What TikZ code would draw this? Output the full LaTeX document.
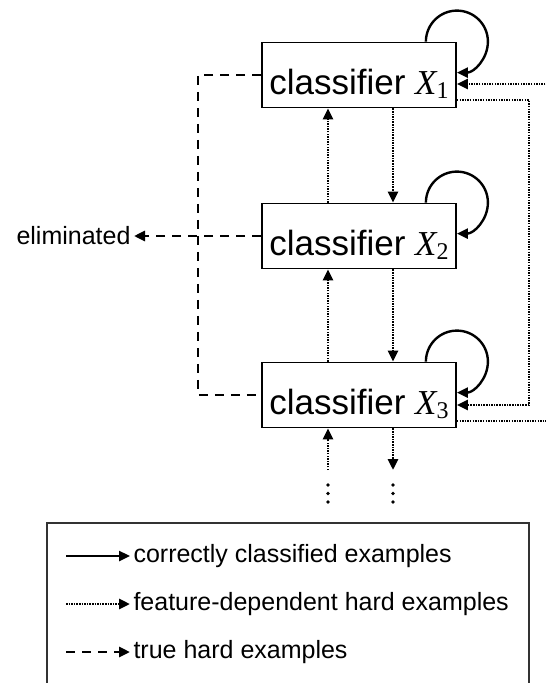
\documentclass[tikz,border=0pt]{standalone}
\usepackage{fontspec}
\setmainfont{Liberation Sans}
\newfontfamily\timesfont{Liberation Serif}
\usetikzlibrary{arrows.meta}
\newcommand{\clsX}[1]{{\timesfont\itshape X}\raisebox{-4pt}{\fontsize{24}{24}\selectfont\timesfont #1}}

\begin{document}
\begin{tikzpicture}[x=1pt,y=-1pt,
	clf/.style={draw,line width=1.8pt,minimum width=194pt,minimum height=65pt,inner sep=0pt,font=\fontsize{35}{35}\selectfont,text height=38pt,text depth=0pt},
	lbl/.style={font=\fontsize{25}{25}\selectfont},
	good/.style={line width=2.4pt},
	feat/.style={line width=2.8pt,dash pattern=on 1.5pt off 1.1pt},
	hard/.style={line width=2.8pt,dash pattern=on 9pt off 7pt},
	>={Triangle[length=11pt,width=10pt]}]
	\useasboundingbox (0,0) rectangle (546,683);
		\draw
		node[clf] at (359,75) (c1) {classifier \clsX{1}}
		node[clf] at (359,236) (c2) {classifier \clsX{2}}
		node[clf] at (359,395) (c3) {classifier \clsX{3}}
		node[lbl,anchor=east] at (134,236) (elim) {eliminated}
		node[lbl,anchor=west] at (130,556) (lg1) {correctly classified examples}
		node[lbl,anchor=west] at (130,604) (lg2) {feature-dependent hard examples}
		node[lbl,anchor=west] at (130,652) (lg3) {true hard examples};
		\coordinate (dl) at (198,236);
		\coordinate (rx) at (529,236);
		\coordinate (rin) at (548,84);
		\coordinate (rout) at (548,421);
		\coordinate (up0) at (328,470);
		\coordinate (dn0) at (393,470);
		\coordinate (s1) at (66,556);
		\coordinate (s2) at (66,604);
		\coordinate (s3) at (66,652);
		\draw[good,->] ([xshift=-31pt]c1.north east) arc[start angle=180,end angle=-90,radius=31pt];
		\draw[good,->] ([xshift=-31pt]c2.north east) arc[start angle=180,end angle=-90,radius=31pt];
		\draw[good,->] ([xshift=-31pt]c3.north east) arc[start angle=180,end angle=-90,radius=31pt];
		\draw[feat,->] ([xshift=-31pt]c2.north) -- ([xshift=-31pt]c1.south);
		\draw[feat,->] ([xshift=34pt]c1.south) -- ([xshift=34pt]c2.north);
		\draw[feat,->] ([xshift=-31pt]c3.north) -- ([xshift=-31pt]c2.south);
		\draw[feat,->] ([xshift=34pt]c2.south) -- ([xshift=34pt]c3.north);
		\draw[feat,->] (up0) -- ([xshift=-31pt]c3.south);
		\draw[feat,->] ([xshift=34pt]c3.south) -- (dn0);
		\foreach \y in {485,493.5,502}
			\fill (328,\y) circle (1.9pt) (393,\y) circle (1.9pt);
		\draw[feat,->] (rin) -- ([yshift=-9pt]c1.east);
		\draw[feat,->] ([yshift=-25pt]c1.east) -| (rx) |- ([yshift=-10pt]c3.east);
		\draw[feat] ([yshift=-26pt]c3.east) -- (rout);
		\draw[hard] (c1.west) -| (dl) |- (c3.west);
		\draw[hard,->] (c2.west) -- (elim.east);
		\draw[line width=1.2pt,black!80] (47,690) -- (47,523) -- (529,523) -- (529,690);
		\draw[good,->] (s1) -- (lg1.west);
		\draw[feat,->] (s2) -- (lg2.west);
		\draw[hard,->] (s3) -- (lg3.west);
	\end{tikzpicture}
\end{document}
